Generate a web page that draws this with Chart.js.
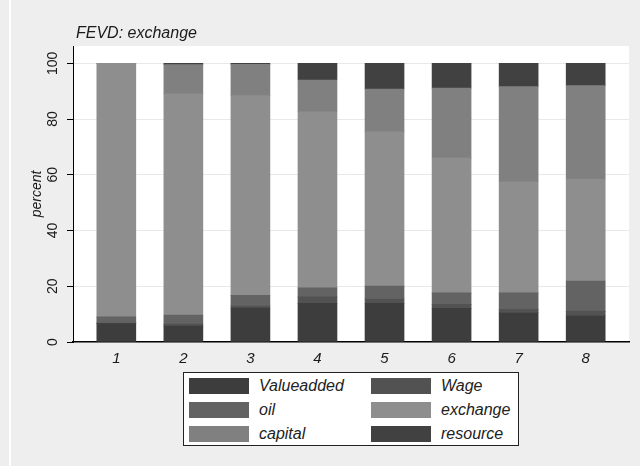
<!DOCTYPE html>
<html>
<head>
<meta charset="utf-8">
<title>FEVD: exchange</title>
<script src="https://cdn.jsdelivr.net/npm/chart.js@4.4.1/dist/chart.umd.min.js"></script>
<style>
  html, body { margin: 0; padding: 0; }
  body {
    width: 640px; height: 466px; overflow: hidden;
    background: #eeeeee; position: relative;
    font-family: "Liberation Sans", Arial, sans-serif;
  }
  #edge { position: absolute; left: 9px; top: 0; width: 2px; height: 466px; background: #ffffff; }
  #wrap { position: absolute; left: 0; top: 0; width: 640px; height: 466px; }
  #title {
    position: absolute; left: 76px; top: 24px;
    font-style: italic; font-size: 16px; color: #1a1a1a; line-height: 18px;
  }
  #legend {
    position: absolute; left: 183px; top: 372px; width: 334px; height: 72px;
    background: #ffffff; border: 1.5px solid #222;
  }
  #legend .item { position: absolute; height: 16px; }
  #legend .box { position: absolute; left: 0; top: 0; width: 60px; height: 16px; }
  #legend .txt {
    position: absolute; left: 70px; top: -2px; white-space: nowrap;
    font-style: italic; font-size: 16px; line-height: 20px; color: #222;
  }
</style>
</head>
<body>
<div id="edge"></div>
<div id="wrap"><canvas id="fevd" width="640" height="466"></canvas></div>
<div id="title">FEVD: exchange</div>
<div id="legend"></div>
<script>
// forecast horizons
const horizons = [1, 2, 3, 4, 5, 6, 7, 8];

// variance share (percent) of each shock, bottom to top of every bar
const valueadded = [6.6, 5.7, 12.2, 13.9, 13.9, 12.1, 10.6, 9.5];
const wage       = [0.4, 0.7, 0.9, 2.3, 1.7, 1.4, 1.1, 1.5];
const oil        = [2.0, 3.3, 3.6, 3.2, 4.5, 4.1, 5.9, 10.9];
const exchange   = [91.0, 79.3, 71.7, 63.2, 55.3, 48.4, 39.9, 36.5];
const capital    = [0.0, 10.5, 11.2, 11.4, 15.3, 25.1, 34.1, 33.6];
const resource   = [0.0, 0.5, 0.4, 6.0, 9.3, 8.9, 8.4, 8.0];

const yTicks = [0, 20, 40, 60, 80, 100];

const seriesNames = ['Valueadded', 'Wage', 'oil', 'exchange', 'capital', 'resource'];
const seriesData = [valueadded, wage, oil, exchange, capital, resource];
const seriesColors = ['#3d3d3d', '#525252', '#636363', '#8e8e8e', '#808080', '#414141'];

const FONT = '"Liberation Sans", Arial, sans-serif';

// white plot region behind the bars
const plotBackground = {
    id: 'plotBackground',
    beforeDraw(chart) {
        const a = chart.chartArea;
        const ctx = chart.ctx;
        ctx.save();
        ctx.fillStyle = '#ffffff';
        ctx.fillRect(a.left, a.top, a.right - a.left, a.bottom - a.top);
        ctx.restore();
    }
};

// two-column boxed legend built from the datasets
const htmlLegend = {
    id: 'htmlLegend',
    afterUpdate(chart) {
        const el = document.getElementById('legend');
        el.innerHTML = '';
        const items = chart.options.plugins.legend.labels.generateLabels(chart);
        items.forEach((item, i) => {
            const col = i % 2;
            const row = Math.floor(i / 2);
            const div = document.createElement('div');
            div.className = 'item';
            div.style.left = (col === 0 ? 5 : 187) + 'px';
            div.style.top = (5 + row * 24) + 'px';
            const box = document.createElement('span');
            box.className = 'box';
            box.style.background = item.fillStyle;
            const txt = document.createElement('span');
            txt.className = 'txt';
            txt.textContent = item.text;
            div.appendChild(box);
            div.appendChild(txt);
            el.appendChild(div);
        });
    }
};

const datasets = seriesNames.map((name, i) => ({
    label: name,
    data: seriesData[i],
    backgroundColor: seriesColors[i],
    borderWidth: 0,
    barThickness: 39
}));

new Chart(document.getElementById('fevd'), {
    type: 'bar',
    data: { labels: horizons, datasets: datasets },
    plugins: [plotBackground, htmlLegend],
    options: {
        responsive: false,
        animation: false,
        layout: { padding: { top: 46, right: 11, bottom: 0, left: 0 } },
        plugins: {
            legend: { display: false },
            title: { display: false },
            tooltip: { enabled: false }
        },
        scales: {
            x: {
                type: 'linear',
                stacked: true,
                offset: false,
                min: 0.354,
                max: 8.646,
                afterBuildTicks(scale) {
                    scale.ticks = horizons.map(v => ({ value: v }));
                },
                afterFit(scale) { scale.height = 124; },
                grid: { display: false, drawTicks: false, offset: false },
                border: { display: true, color: '#000000', width: 1.5 },
                ticks: {
                    padding: 8,
                    color: '#1a1a1a',
                    font: { family: FONT, size: 15, style: 'italic' },
                    callback: v => String(v)
                }
            },
            y: {
                stacked: true,
                min: 0,
                max: 106.2,
                afterBuildTicks(scale) {
                    scale.ticks = yTicks.map(v => ({ value: v }));
                },
                afterFit(scale) { scale.width = 73; },
                grid: {
                    color: '#e8e8e8',
                    lineWidth: 1,
                    drawTicks: true,
                    tickLength: 6,
                    tickColor: '#000000'
                },
                border: { display: true, color: '#000000', width: 1 },
                ticks: {
                    minRotation: 90,
                    maxRotation: 90,
                    crossAlign: 'center',
                    padding: 2,
                    color: '#1a1a1a',
                    font: { family: FONT, size: 14 },
                    callback: v => String(v)
                },
                title: {
                    display: true,
                    text: 'percent',
                    color: '#1a1a1a',
                    font: { family: FONT, size: 14, style: 'italic' },
                    padding: { top: 29, bottom: 0 }
                }
            }
        }
    }
});
</script>
</body>
</html>
